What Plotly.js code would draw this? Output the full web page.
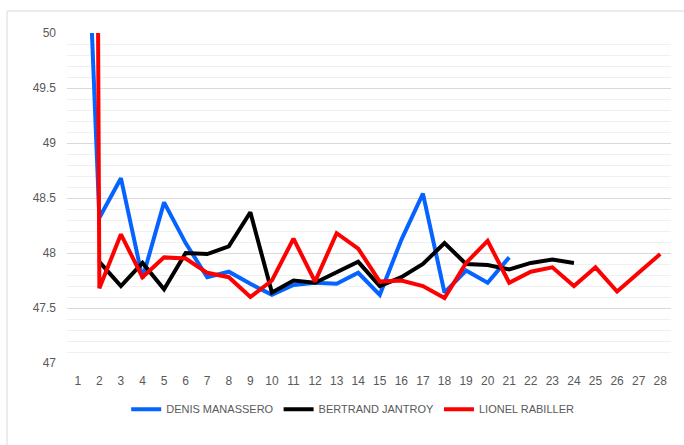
<!DOCTYPE html>
<html>
<head>
<meta charset="utf-8">
<script src="https://cdn.plot.ly/plotly-3.0.1.min.js"></script>
<style>
html,body{margin:0;padding:0;background:#fff;}
#chart{width:684px;height:445px;}
</style>
</head>
<body>
<div id="chart"></div>
<script>
const laps = [1,2,3,4,5,6,7,8,9,10,11,12,13,14,15,16,17,18,19,20,21,22,23,24,25,26,27,28];
const tickLabels = laps.map(String);

const denisName = "DENIS MANASSERO";
const denis = [53.2,48.32,48.68,47.77,48.46,48.09,47.78,47.83,47.72,47.62,47.71,47.73,47.72,47.82,47.62,48.12,48.54,47.64,47.84,47.73,47.96];

const bertrandName = "BERTRAND JANTROY";
const bertrand = [null,47.92,47.70,47.91,47.67,48.00,47.99,48.06,48.37,47.64,47.75,47.73,47.82,47.92,47.70,47.78,47.90,48.09,47.90,47.89,47.85,47.91,47.94,47.91];

const lionelName = "LIONEL RABILLER";
const lionel = [87.0,47.68,48.17,47.78,47.96,47.95,47.82,47.78,47.60,47.75,48.13,47.74,48.18,48.04,47.74,47.75,47.70,47.59,47.91,48.11,47.73,47.83,47.87,47.70,47.87,47.65,47.82,47.99];

const font = "'Liberation Sans Narrow', 'Liberation Sans', Arial, sans-serif";
const grey = "#595959";

function mk(name, vals, color){
  return {
    type:'scatter', mode:'lines', name:name,
    x: laps.slice(0, vals.length), y: vals,
    line:{color:color, width:4},
    connectgaps:false, hoverinfo:'skip'
  };
}

const data = [
  mk(denisName, denis, '#0563FF'),
  mk(bertrandName, bertrand, '#000000'),
  mk(lionelName, lionel, '#FF0000')
];

const layout = {
  width:684, height:445,
  margin:{l:67, r:13, t:33, b:82},
  paper_bgcolor:'#fff', plot_bgcolor:'#fff',
  font:{family:font, size:12, color:grey},
  showlegend:true,
  legend:{orientation:'h', x:0.473, xanchor:'center', y:-0.14, yanchor:'middle',
          font:{family:font, size:11, color:grey}, itemwidth:30, traceorder:'normal'},
  xaxis:{
    range:[0.5,28.5], tickmode:'array', tickvals:laps, ticktext:tickLabels,
    showgrid:false, zeroline:false, showline:false, ticks:'',
    tickfont:{family:font, size:12, color:grey}, ticklabelstandoff:9, fixedrange:true
  },
  yaxis:{
    range:[47,50], dtick:0.5, tick0:47, showgrid:true, gridcolor:'#d9d9d9', gridwidth:1,
    minor:{dtick:0.1, tick0:47, showgrid:true, gridcolor:'#f0f0f0', gridwidth:1},
    zeroline:false, showline:false, ticks:'',
    tickfont:{family:font, size:12, color:grey}, ticklabelstandoff:10, fixedrange:true
  },
  shapes:[
    {type:'line', xref:'paper', yref:'paper', x0:-0.0993, x1:-0.0993, y0:1.0667, y1:-0.4, line:{color:'#d9d9d9', width:1}, layer:'below'},
    {type:'line', xref:'paper', yref:'paper', x0:-0.0993, x1:1.1, y0:1.0667, y1:1.0667, line:{color:'#d9d9d9', width:1}, layer:'below'}
  ]
};

Plotly.newPlot('chart', data, layout, {staticPlot:true, displayModeBar:false});
</script>
</body>
</html>
